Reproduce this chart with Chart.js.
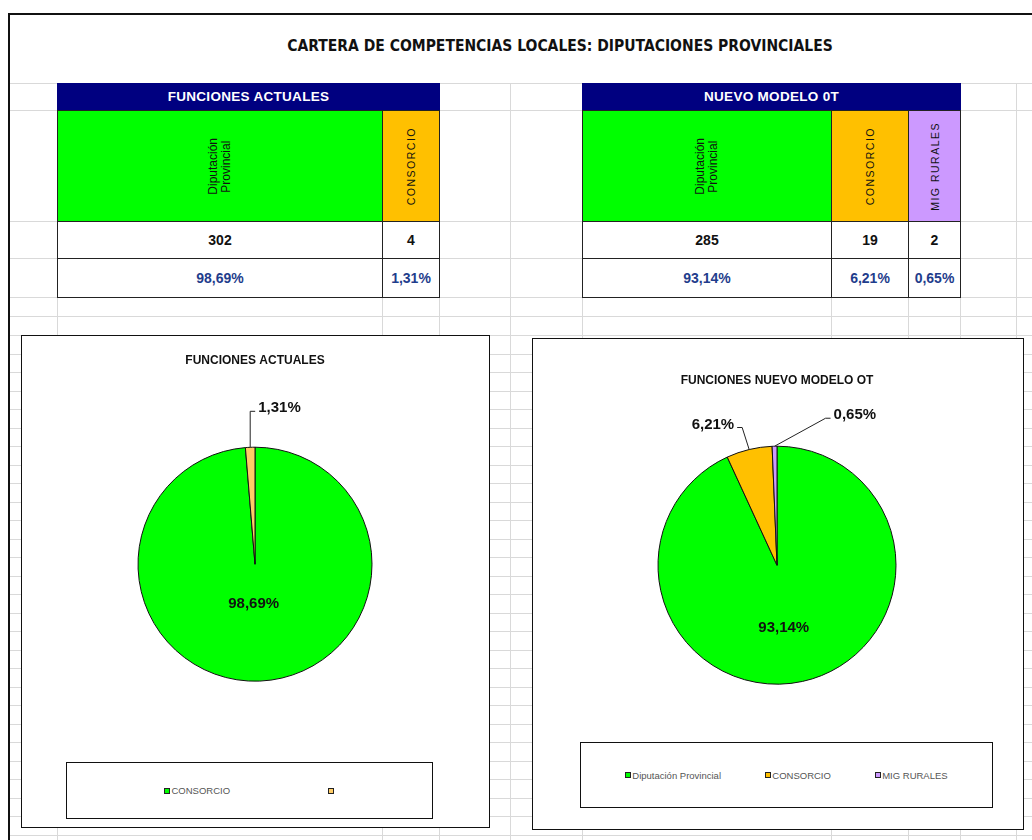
<!DOCTYPE html>
<html lang="es">
<head>
<meta charset="utf-8">
<title>Cartera de competencias locales</title>
<script src="https://cdn.jsdelivr.net/npm/chart.js@4.4.1/dist/chart.umd.min.js"></script>
<style>
  html, body { margin: 0; padding: 0; }
  body {
    width: 1032px; height: 840px; position: relative; overflow: hidden;
    background: #fff; font-family: "Liberation Sans", Arial, sans-serif;
  }
  .abs { position: absolute; box-sizing: border-box; }
  .grid-v { position: absolute; width: 1px; background: #d9d9d9; }
  .grid-h { position: absolute; height: 1px; background: #d9d9d9; }
  #frame { left: 8px; top: 13px; width: 1040px; height: 840px;
    border-left: 2px solid #111; border-top: 2px solid #111; }
  #mainTitle { left: 0; top: 37px; width: 1120px; text-align: center;
    font-family: "Liberation Sans Narrow", "DejaVu Sans Condensed", Arial, sans-serif;
    font-weight: bold; font-size: 15.5px; color: #111; }
  .cell { position: absolute; box-sizing: border-box; border: 1px solid #222;
    display: flex; align-items: center; justify-content: center; }
  .head { background: #000080; color: #fff; font-weight: bold; font-size: 13.5px;
    letter-spacing: 0.3px; border: none; }
  .vert { writing-mode: vertical-rl; transform: rotate(180deg); text-align: center; }
  .count { font-weight: bold; font-size: 14px; color: #111; }
  .pct { font-weight: bold; font-size: 14px; color: #1f3d8c; }
  .chartBox { position: absolute; box-sizing: border-box; border: 1px solid #111; background: #fff; }
  .chartBox canvas { position: absolute; left: 0; top: 0; }
  .legend { position: absolute; box-sizing: border-box; border: 1px solid #111; background: #fff;
    display: flex; justify-content: space-evenly; align-items: center; }
  .legend span.item { display: flex; align-items: center; font-size: 9.5px; color: #555; }
  .legend i { display: inline-block; width: 4px; height: 4px; border: 1px solid #222; margin-right: 1px; }
</style>
</head>
<body>
<div id="grid"></div>
<div class="abs" id="frame"></div>
<div class="abs" id="mainTitle">CARTERA DE COMPETENCIAS LOCALES: DIPUTACIONES PROVINCIALES</div>
<div id="tables"></div>

<div class="chartBox" style="left:21px; top:335px; width:469px; height:493px;">
  <canvas id="chartActual" width="467" height="491"></canvas>
</div>
<div class="legend" id="legendActual" style="left:66px; top:762px; width:367px; height:57px;"></div>

<div class="chartBox" style="left:532px; top:338px; width:492px; height:492px;">
  <canvas id="chartNuevo" width="490" height="490"></canvas>
</div>
<div class="legend" id="legendNuevo" style="left:580px; top:742px; width:413px; height:66px;"></div>

<script>
// data
const actualTitle = 'FUNCIONES ACTUALES';
const actualCategories = ['Diputación Provincial', 'CONSORCIO'];
const actualCounts = [302, 4];
const actualPercents = [98.69, 1.31];
const actualLegendLabels = ['CONSORCIO', ''];

const nuevoTitle = 'NUEVO MODELO 0T';
const nuevoChartTitle = 'FUNCIONES NUEVO MODELO OT';
const nuevoCategories = ['Diputación Provincial', 'CONSORCIO', 'MIG RURALES'];
const nuevoCounts = [285, 19, 2];
const nuevoPercents = [93.14, 6.21, 0.65];
const nuevoLegendLabels = ['Diputación Provincial', 'CONSORCIO', 'MIG RURALES'];

// colours
const GREEN = '#00ff00';
const ORANGE = '#ffc000';
const ORANGE_LIGHT = '#ffcc66';
const PURPLE = '#cc99ff';

const fmtPct = v => v.toFixed(2).replace('.', ',') + '%';

// spreadsheet grid
const gridCols = [57, 382, 439, 510, 582, 831, 908, 960, 1016];
const gridRows = [83, 110, 221, 258, 297, 316, 335];
for (let y = 353.5; y < 840; y += 18.5) gridRows.push(Math.round(y));

const gridEl = document.getElementById('grid');
gridCols.forEach(x => {
  const d = document.createElement('div');
  d.className = 'grid-v';
  d.style.cssText = `left:${x}px; top:83px; height:757px;`;
  gridEl.appendChild(d);
});
gridRows.forEach(y => {
  const d = document.createElement('div');
  d.className = 'grid-h';
  d.style.cssText = `left:10px; top:${y}px; width:1022px;`;
  gridEl.appendChild(d);
});

// tables
const tablesEl = document.getElementById('tables');
const rowsY = [83, 110, 221, 258, 297];

const addCell = (x0, x1, y0, y1, cls, html, bg) => {
  const c = document.createElement('div');
  c.className = 'cell ' + cls;
  c.style.cssText = `left:${x0}px; top:${y0}px; width:${x1 - x0 + 1}px; height:${y1 - y0 + 1}px;` +
    (bg ? `background:${bg};` : 'background:#fff;');
  c.innerHTML = html;
  tablesEl.appendChild(c);
};

const buildTable = (edges, title, categories, counts, percents, colors) => {
  addCell(edges[0], edges[edges.length - 1], rowsY[0], rowsY[1] - 1, 'head', title, '#000080');
  categories.forEach((cat, i) => {
    const x0 = edges[i], x1 = edges[i + 1];
    let label;
    if (cat === 'Diputación Provincial') {
      label = '<div class="vert" style="font-size:12px; line-height:13px; color:#111;">Diputación<br>Provincial</div>';
    } else {
      label = `<div class="vert" style="font-size:10.5px; letter-spacing:1.5px; color:#111;">${cat}</div>`;
    }
    addCell(x0, x1, rowsY[1], rowsY[2], '', label, colors[i]);
    addCell(x0, x1, rowsY[2], rowsY[3], 'count', String(counts[i]));
    addCell(x0, x1, rowsY[3], rowsY[4], 'pct', fmtPct(percents[i]));
  });
};

buildTable([57, 382, 439], actualTitle, actualCategories, actualCounts, actualPercents, [GREEN, ORANGE]);
buildTable([582, 831, 908, 960], nuevoTitle, nuevoCategories, nuevoCounts, nuevoPercents, [GREEN, ORANGE, PURPLE]);

// legends
const buildLegend = (id, labels, colors) => {
  const el = document.getElementById(id);
  labels.forEach((lab, i) => {
    const s = document.createElement('span');
    s.className = 'item';
    s.innerHTML = `<i style="background:${colors[i]}"></i>${lab}`;
    el.appendChild(s);
  });
};

// percentage labels with leader lines
const pieLabels = {
  id: 'pieLabels',
  afterDatasetsDraw(chart, args, opts) {
    const ctx = chart.ctx;
    const meta = chart.getDatasetMeta(0);
    ctx.save();
    ctx.font = 'bold 15px "Liberation Sans", Arial, sans-serif';
    ctx.fillStyle = '#111';
    ctx.strokeStyle = '#222';
    ctx.lineWidth = 1;
    ctx.textBaseline = 'middle';
    meta.data.forEach((arc, i) => {
      const p = arc.getProps(['x', 'y', 'startAngle', 'endAngle', 'outerRadius'], true);
      const mid = (p.startAngle + p.endAngle) / 2;
      const place = opts.placement[i];
      const text = opts.texts[i];
      if (place.inside !== undefined) {
        const d = p.outerRadius * place.inside;
        ctx.textAlign = 'center';
        ctx.fillText(text, p.x + Math.cos(mid) * d + (place.shift || 0), p.y + Math.sin(mid) * d);
      } else {
        const ex = p.x + Math.cos(mid) * p.outerRadius;
        const ey = p.y + Math.sin(mid) * p.outerRadius;
        const kx = ex + place.dx, ky = ey + place.dy;
        const tx = kx + place.tail;
        ctx.beginPath();
        ctx.moveTo(ex, ey);
        ctx.lineTo(kx, ky);
        ctx.lineTo(tx, ky);
        ctx.stroke();
        ctx.textAlign = place.tail < 0 ? 'right' : 'left';
        ctx.fillText(text, tx + Math.sign(place.tail) * 3, ky - 3);
      }
    });
    ctx.restore();
  }
};

const makePie = (canvasId, opts) => new Chart(document.getElementById(canvasId), {
  type: 'pie',
  data: {
    labels: opts.labels,
    datasets: [{
      data: opts.values,
      backgroundColor: opts.colors,
      borderColor: '#111',
      borderWidth: 1,
      radius: opts.radius
    }]
  },
  options: {
    responsive: false,
    animation: false,
    layout: { padding: opts.padding },
    plugins: {
      legend: { display: false },
      tooltip: { enabled: false },
      title: {
        display: true,
        text: opts.title,
        color: '#111',
        font: { family: '"Liberation Sans", Arial, sans-serif', size: 12, weight: 'bold' },
        padding: opts.titlePadding
      },
      pieLabels: { texts: opts.texts, placement: opts.placement }
    }
  },
  plugins: [pieLabels]
});

makePie('chartActual', {
  labels: actualCategories,
  values: actualCounts,
  colors: [GREEN, ORANGE_LIGHT],
  radius: 117,
  title: actualTitle,
  titlePadding: { top: 17, bottom: 10 },
  padding: { left: 0, right: 1, top: 0, bottom: 76 },
  texts: actualPercents.map(fmtPct),
  placement: [{ inside: 0.34, shift: -3 }, { dx: 0, dy: -36, tail: 5 }]
});

makePie('chartNuevo', {
  labels: nuevoCategories,
  values: nuevoCounts,
  colors: [GREEN, ORANGE, PURPLE],
  radius: 119,
  title: nuevoChartTitle,
  titlePadding: { top: 34, bottom: 10 },
  padding: { left: 0, right: 2, top: 0, bottom: 96 },
  texts: nuevoPercents.map(fmtPct),
  placement: [{ inside: 0.54, shift: -7 }, { dx: -7, dy: -22, tail: -5 }, { dx: 51, dy: -28, tail: 5 }]
});

buildLegend('legendActual', actualLegendLabels, [GREEN, ORANGE_LIGHT]);
buildLegend('legendNuevo', nuevoLegendLabels, [GREEN, ORANGE, PURPLE]);
</script>
</body>
</html>
